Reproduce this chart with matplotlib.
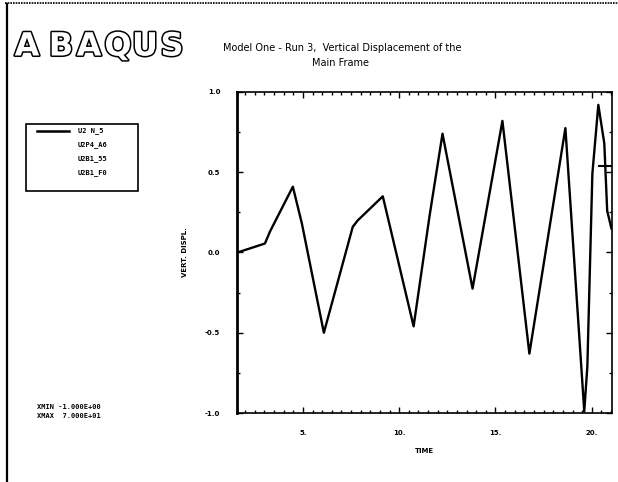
import matplotlib
matplotlib.use("Agg")
import matplotlib.pyplot as plt
import matplotlib.patheffects as pe
from matplotlib.lines import Line2D
from matplotlib.patches import Rectangle
from matplotlib.ticker import MultipleLocator

# data
time = [1.6, 3.03, 3.29, 4.48, 4.95, 6.09, 7.59, 7.85, 9.15, 10.75, 11.58, 12.25,
        13.81, 15.36, 16.76, 18.63, 19.61, 19.77, 20.03, 20.34, 20.65, 20.80, 21.02]
u2_n5 = [0.0, 0.056, 0.13, 0.41, 0.18, -0.50, 0.16, 0.20, 0.35, -0.46, 0.23, 0.74,
         -0.225, 0.82, -0.63, 0.775, -0.99, -0.71, 0.49, 0.92, 0.68, 0.26, 0.15]
time2 = [20.4, 21.05]
u2_2 = [0.54, 0.54]
x_ticks = [5, 10, 15, 20]
x_ticklabels = ["5.", "10.", "15.", "20."]
y_ticks = [-1.0, -0.5, 0.0, 0.5, 1.0]
y_ticklabels = ["-1.0", "-0.5", "0.0", "0.5", "1.0"]
legend_labels = ["U2 N_5", "U2P4_A6", "U2B1_55", "U2B1_F0"]

fig = plt.figure(figsize=(6.18, 4.82), dpi=100)
W, H = 618, 482
def fx(px): return px / W
def fy(py): return 1 - py / H

# page frame
fig.add_artist(Line2D([fx(5), fx(618)], [fy(3), fy(3)], color="black", lw=1.2, ls=(0, (1, 0.6))))
fig.add_artist(Line2D([fx(7), fx(7)], [fy(4), fy(482)], color="black", lw=1.6))

# ABAQUS logo
for ch, px in zip("ABAQUS", [27, 61, 89, 118, 145, 172]):
    fig.text(fx(px), fy(47), ch, fontsize=23, fontweight="bold", ha="center", va="center",
             color="white", family="Liberation Sans Narrow",
             path_effects=[pe.withStroke(linewidth=2.2, foreground="black")])

fig.text(fx(342), fy(48), "Model One - Run 3,  Vertical Displacement of the",
         fontsize=7, ha="center", va="center", family="Liberation Sans Narrow")
fig.text(fx(340), fy(63), "Main Frame", fontsize=7, ha="center", va="center",
         family="Liberation Sans Narrow")

# legend box
fig.add_artist(Rectangle((fx(26), fy(191)), fx(138) - fx(26), fy(124) - fy(191),
                         fill=False, ec="black", lw=1.2))
fig.add_artist(Line2D([fx(37), fx(69)], [fy(131), fy(131)], color="black", lw=1.8))
for i, lab in enumerate(legend_labels):
    fig.text(fx(78), fy(131 + i * 14), lab, fontsize=5, fontweight="bold", va="center",
             family="DejaVu Sans Mono")

fig.text(fx(37), fy(407), "XMIN -1.000E+00", fontsize=5, fontweight="bold", va="center",
         family="DejaVu Sans Mono")
fig.text(fx(37), fy(416), "XMAX  7.000E+01", fontsize=5, fontweight="bold", va="center",
         family="DejaVu Sans Mono")

ax = fig.add_axes([fx(237), fy(413), fx(612) - fx(237), fy(92) - fy(413)])
ax.plot(time, u2_n5, color="black", lw=1.7)
ax.plot(time2, u2_2, color="black", lw=1.5)
ax.set_xlim(1.58, 21.05)
ax.set_ylim(-1.0, 1.0)
ax.set_xticks(x_ticks)
ax.set_xticklabels(x_ticklabels)
ax.set_yticks(y_ticks)
ax.set_yticklabels(y_ticklabels)
ax.xaxis.set_minor_locator(MultipleLocator(0.5))
ax.yaxis.set_minor_locator(MultipleLocator(0.25))
ax.tick_params(which="both", direction="in", top=True, right=True, width=1)
ax.tick_params(which="major", length=4, labelsize=5, pad=12)
ax.tick_params(which="minor", length=2)
for t in ax.get_xticklabels() + ax.get_yticklabels():
    t.set_fontweight("bold")
for s in ax.spines.values():
    s.set_linewidth(1.2)
ax.spines["left"].set_linewidth(2)
ax.set_xlabel("TIME", fontsize=5, fontweight="bold", labelpad=9)
ax.set_ylabel("VERT. DISPL.", fontsize=5, fontweight="bold", labelpad=12)

fig.savefig("out.png", dpi=100)
